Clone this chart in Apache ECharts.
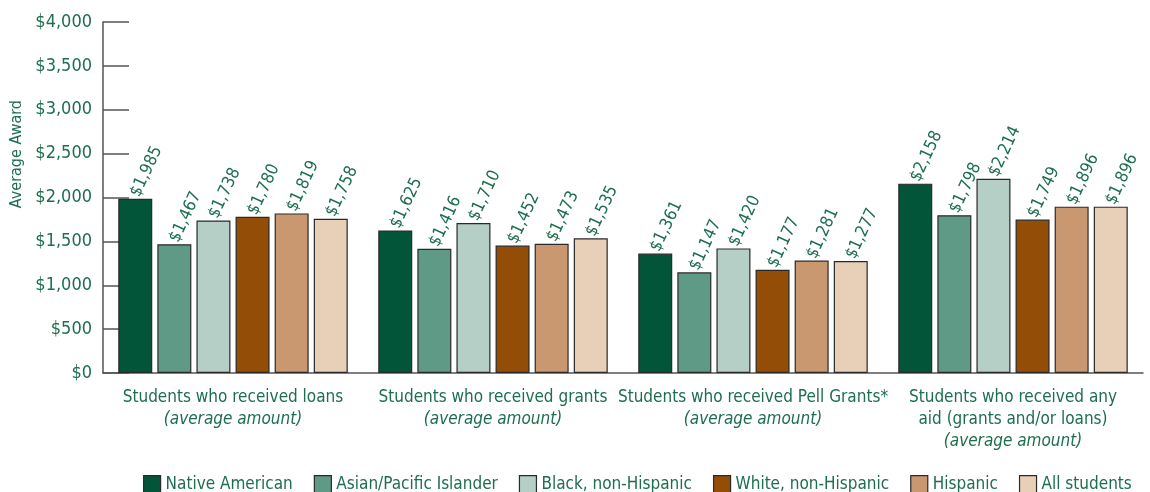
<!DOCTYPE html>
<html><head><meta charset="utf-8">
<script src="https://cdn.jsdelivr.net/npm/echarts@6/dist/echarts.min.js"></script>
<style>html,body{margin:0;padding:0;background:#fff}#c{width:1150px;height:492px}</style>
</head><body><div id="c"></div>
<script>
const categories = [
  'Students who received loans\n{i|(average amount)}',
  'Students who received grants\n{i|(average amount)}',
  'Students who received Pell Grants*\n{i|(average amount)}',
  'Students who received any\naid (grants and/or loans)\n{i|(average amount)}'
];
const seriesNames = ['Native American','Asian/Pacific Islander','Black, non-Hispanic','White, non-Hispanic','Hispanic','All students'];
const nativeAmerican = [1985, 1625, 1361, 2158];
const asianPacific   = [1467, 1416, 1147, 1798];
const blackNonHisp   = [1738, 1710, 1420, 2214];
const whiteNonHisp   = [1780, 1452, 1177, 1749];
const hispanic       = [1819, 1473, 1281, 1896];
const allStudents    = [1758, 1535, 1277, 1896];
const values = [nativeAmerican, asianPacific, blackNonHisp, whiteNonHisp, hispanic, allStudents];
const colors = ['#03553a','#5e9a86','#b5cfc6','#944d07','#c99870','#e8d0b8'];
const green = '#1d6e4e';
const font = '"Liberation Sans Narrow","DejaVu Sans Condensed",sans-serif';
const fmt = v => '$' + v.toLocaleString('en-US');

const chart = echarts.init(document.getElementById('c'));
chart.setOption({
  animation: false,
  textStyle: {fontFamily: font},
  grid: {left: 103, width: 1040, top: 22, height: 351},
  graphic: [{
    type: 'text', left: 9, top: 100, rotation: Math.PI / 2,
    style: {text: 'Average Award', fill: green, font: '16px ' + font}
  }],
  legend: {
    top: 470, left: 138, itemWidth: 17, itemHeight: 17, itemGap: 21, icon: 'rect',
    itemStyle: {borderColor: '#2a2a2a', borderWidth: 1.2},
    textStyle: {color: green, fontSize: 17, fontFamily: font},
    data: seriesNames
  },
  xAxis: {
    type: 'category', data: categories,
    axisLine: {lineStyle: {color: '#555', width: 1.5}},
    axisTick: {show: false},
    axisLabel: {
      interval: 0, color: green, fontSize: 17, lineHeight: 22, margin: 14, fontFamily: font,
      rich: {i: {fontStyle: 'italic', color: green, fontSize: 17, lineHeight: 22, fontFamily: font}}
    }
  },
  yAxis: {
    type: 'value', min: 0, max: 4000, interval: 500,
    axisLine: {show: true, lineStyle: {color: '#555', width: 1.5}},
    axisTick: {show: true, inside: true, length: 26, lineStyle: {color: '#555', width: 1.5}},
    splitLine: {show: false},
    axisLabel: {color: green, fontSize: 18, margin: 11, fontFamily: font, formatter: v => fmt(v)}
  },
  series: seriesNames.map((n, k) => ({
    name: n, type: 'bar', data: values[k], barWidth: 34, barGap: '15%',
    itemStyle: {color: colors[k], borderColor: '#2a2a2a', borderWidth: 1.2},
    label: {
      show: true, position: 'top', rotate: 65, align: 'left', verticalAlign: 'middle',
      distance: 3, color: green, fontSize: 17, fontFamily: font,
      formatter: p => fmt(p.value)
    }
  }))
});
</script></body></html>
